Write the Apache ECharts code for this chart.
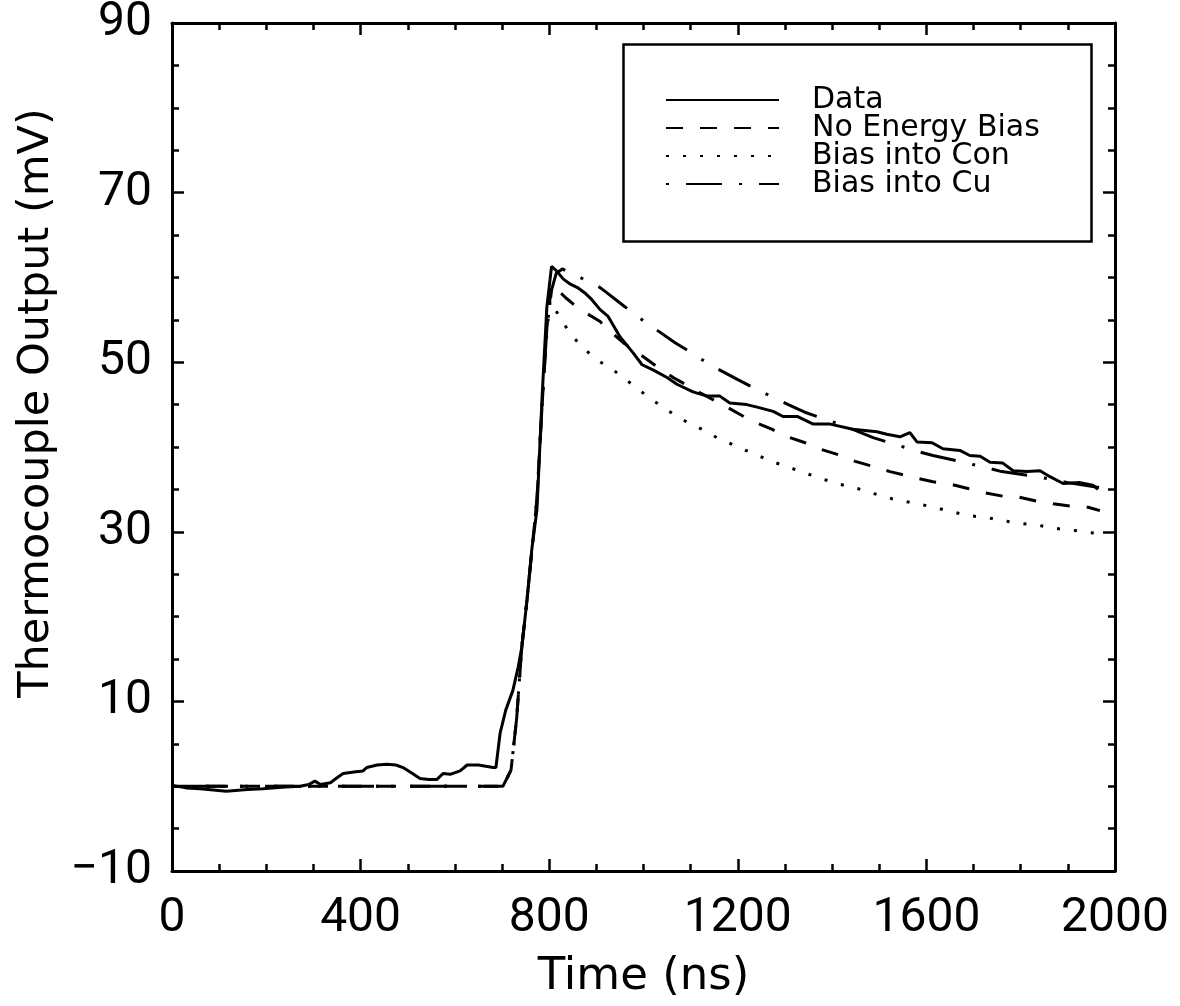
<!DOCTYPE html>
<html><head><meta charset="utf-8">
<script src="https://cdn.jsdelivr.net/npm/echarts@6/dist/echarts.min.js"></script>
<style>html,body{margin:0;padding:0;background:#fff}#c{width:1180px;height:1006px}</style>
</head><body><div id="c"></div>
<script>
// ---- data ----
const dataT = [0,30,60,115,160,193,240,272,290,303,315,336,350,363,390,405,413,435,456,475,490,510,526,545,562,575,590,611,626,650,681,687,696,708,723,734,742,753,763,774,785,795,805,815,830,845,860,875,890,908,925,950,978,997,1020,1050,1071,1105,1135,1162,1183,1219,1241,1275,1296,1326,1360,1396,1444,1495,1516,1544,1565,1580,1612,1635,1671,1692,1714,1735,1762,1784,1813,1841,1862,1890,1926,1953,1964];
const dataV = [0.1,-0.2,-0.3,-0.6,-0.4,-0.3,-0.1,0,0.2,0.6,0.2,0.4,1.0,1.5,1.7,1.8,2.2,2.5,2.6,2.5,2.2,1.5,0.9,0.8,0.8,1.5,1.4,1.8,2.5,2.5,2.2,2.2,6.3,9.0,11.3,14.0,16.4,22.0,27.9,32.6,46.0,56.5,61.3,60.8,59.8,59.2,58.8,58.2,57.4,56.2,55.4,53.0,51.1,49.7,49.1,48.2,47.4,46.5,46.0,46.0,45.2,45.0,44.7,44.2,43.6,43.6,42.7,42.7,42.1,41.8,41.5,41.2,41.7,40.6,40.5,39.8,39.6,39.0,38.9,38.2,38.1,37.2,37.1,37.2,36.5,35.7,35.8,35.5,35.0];

const noBiasT = [0,702,719,731,742,753,774,785,795,805,820,835,850,870,890,908,918,957,993,1028,1063,1120,1177,1232,1272,1306,1343,1378,1413,1449,1487,1523,1559,1614,1652,1688,1724,1762,1796,1835,1869,1909,1943,1968];
const noBiasV = [0,0,1.9,8.0,16.5,22.0,33.8,45.0,54.0,59.2,58.4,57.6,56.9,56.1,55.4,54.8,54.2,52.3,50.9,49.5,48.2,46.4,44.7,43.0,42.1,41.2,40.5,39.7,39.1,38.3,37.7,37.1,36.6,35.9,35.6,35.1,34.6,34.2,34.1,33.6,33.3,33.0,32.9,32.5];

const conT = [0,702,719,731,742,753,774,785,795,802,815,830,850,870,900,933,973,1010,1046,1083,1120,1156,1196,1234,1272,1309,1344,1381,1417,1454,1489,1527,1563,1616,1652,1690,1727,1762,1798,1835,1873,1909,1945,1968];
const conV = [0,0,1.9,8.0,16.5,22.0,33.8,45.0,53.5,57.3,56.0,54.6,53.0,51.8,50.3,49.2,47.5,45.9,44.5,43.2,42.2,41.1,40.1,39.2,38.3,37.6,36.9,36.2,35.6,35.1,34.5,33.9,33.5,32.9,32.4,31.9,31.7,31.3,31.0,30.8,30.4,30.2,29.9,29.8];

const cuT = [0,702,719,731,742,753,774,785,795,805,815,828,850,880,908,922,959,997,1067,1105,1141,1198,1236,1307,1342,1420,1487,1523,1580,1614,1686,1724,1760,1835,1900,1968];
const cuV = [0,0,1.9,8.0,16.5,22.0,33.8,45.0,54.0,58.5,60.5,61.0,60.4,59.6,58.8,58.2,56.6,55.0,52.3,51.0,49.7,48.0,46.9,45.0,44.1,42.6,41.1,40.5,39.5,39.0,38.1,37.6,37.1,36.5,35.8,35.2];

const seriesNames = ['Data','No Energy Bias','Bias into Con','Bias into Cu'];
const xTicks = {min:0, max:2000, interval:400};
const yTicks = {min:-10, max:90, interval:20};
const xTitle = 'Time (ns)';
const yTitle = 'Thermocouple Output (mV)';

const zip = (t,v) => t.map((x,i)=>[x,v[i]]);
const NUMFONT = 'Roboto';
const TXTFONT = 'DejaVu Sans';
const minus = v => String(v).replace('-', '\u2212');

const axisCommon = {
  axisLine:{show:true,onZero:false,lineStyle:{color:'#000',width:3}},
  axisTick:{show:true,inside:true,length:12,lineStyle:{color:'#000',width:2.5}},
  minorTick:{show:true,splitNumber:4,length:7,lineStyle:{color:'#000',width:2.5}},
  splitLine:{show:false}, minorSplitLine:{show:false}
};

const chart = echarts.init(document.getElementById('c'), null, {renderer:'canvas'});
chart.setOption({
  backgroundColor:'#fff',
  animation:false,
  grid:{left:172,right:65,top:23,bottom:135,containLabel:false,outerBoundsMode:'none'},
  xAxis:[
    Object.assign({type:'value',position:'bottom',min:xTicks.min,max:xTicks.max,interval:xTicks.interval,
      name:xTitle,nameLocation:'middle',nameGap:84,
      nameTextStyle:{fontFamily:TXTFONT,fontSize:45,color:'#000'},
      axisLabel:{fontFamily:NUMFONT,fontSize:48,color:'#000',margin:24,formatter:v=>String(v)}},axisCommon),
    Object.assign({type:'value',position:'top',min:xTicks.min,max:xTicks.max,interval:xTicks.interval,
      axisLabel:{show:false}},axisCommon)
  ],
  yAxis:[
    Object.assign({type:'value',position:'left',min:yTicks.min,max:yTicks.max,interval:yTicks.interval,
      axisLabel:{fontFamily:NUMFONT,fontSize:48,color:'#000',margin:20,formatter:minus}},axisCommon),
    Object.assign({type:'value',position:'right',min:yTicks.min,max:yTicks.max,interval:yTicks.interval,
      axisLabel:{show:false}},axisCommon)
  ],
  legend:{
    show:true, orient:'vertical', left:660, top:80,
    itemWidth:113, itemHeight:28, itemGap:-2,
    data:seriesNames,
    itemStyle:{color:'rgba(0,0,0,0)',borderColor:'rgba(0,0,0,0)',borderWidth:0},
    textStyle:{fontFamily:TXTFONT,fontSize:30,color:'#000',padding:[0,0,0,28]}
  },
  graphic:[
    {type:'rect',left:621,top:42,shape:{width:468,height:197},
      style:{fill:'none',stroke:'#000',lineWidth:2.5},z:10},
    {type:'text',x:37,y:403,rotation:Math.PI/2,
      style:{text:yTitle,font:'43px "DejaVu Sans"',fill:'#000',textAlign:'center',textVerticalAlign:'middle'},z:10}
  ],
  series:[
    {name:seriesNames[3],type:'line',data:zip(cuT,cuV),symbol:'none',showSymbol:false,
      lineStyle:{color:'#000',width:3,type:[36,17,3,17],dashOffset:53},itemStyle:{color:'#000'}},
    {name:seriesNames[2],type:'line',data:zip(conT,conV),symbol:'none',showSymbol:false,
      lineStyle:{color:'#000',width:3,type:[3,14]},itemStyle:{color:'#000'}},
    {name:seriesNames[1],type:'line',data:zip(noBiasT,noBiasV),symbol:'none',showSymbol:false,
      lineStyle:{color:'#000',width:3,type:[17,17]},itemStyle:{color:'#000'}},
    {name:seriesNames[0],type:'line',data:zip(dataT,dataV),symbol:'none',showSymbol:false,
      lineStyle:{color:'#000',width:3,type:'solid'},itemStyle:{color:'#000'}}
  ]
});
</script></body></html>
